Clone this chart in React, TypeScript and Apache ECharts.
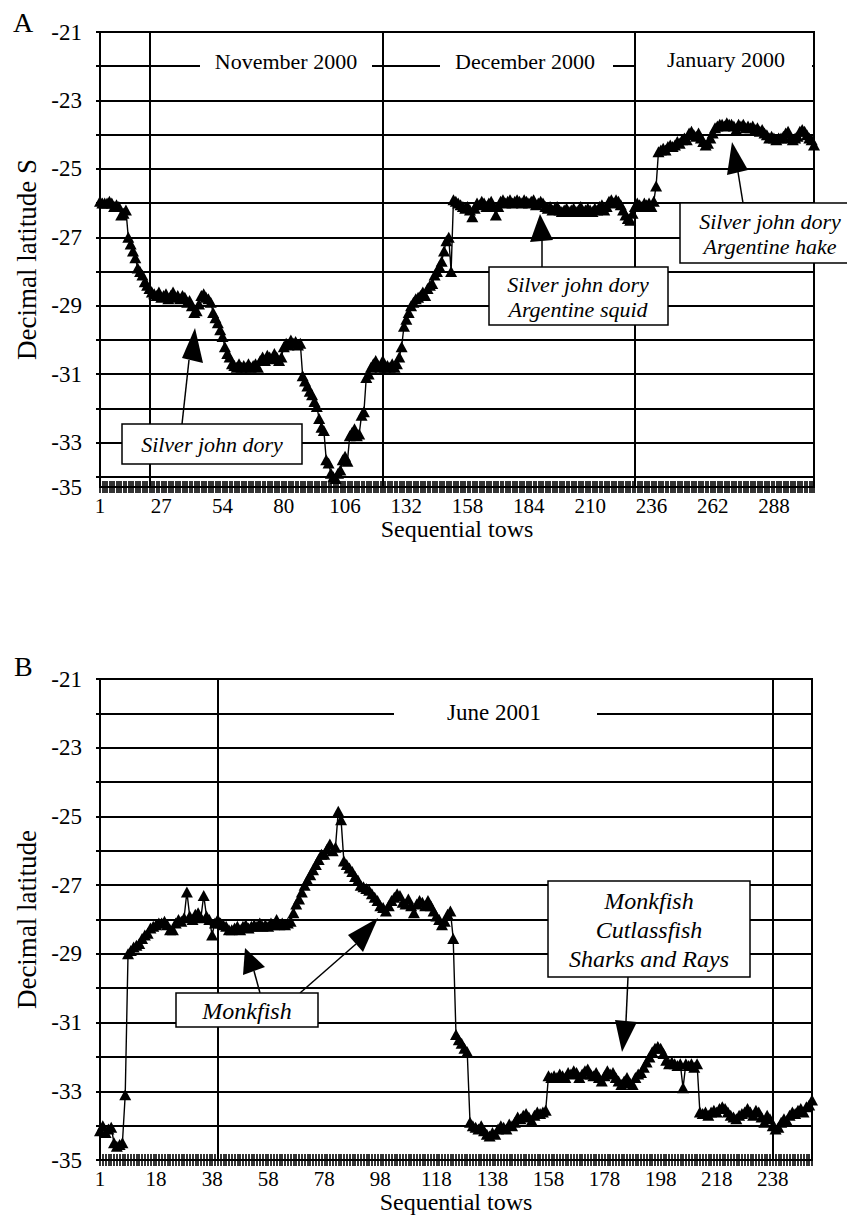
import React, { useEffect, useRef } from 'react';
import * as echarts from 'echarts';

// ---------- DATA ----------
// Panel A: decimal latitude of each sequential tow (Nov 2000 - Jan 2001)
const towsA: number[] = [
  -25.95, -26.0, -26.0, -26.0, -25.95, -26.0, -26.1, -26.05, -26.1, -26.35, -26.3, -26.2,
  -27.0, -27.2, -27.4, -27.6, -27.9, -28.0, -28.1, -28.3, -28.4, -28.5, -28.6, -28.65,
  -28.7, -28.6, -28.75, -28.7, -28.65, -28.8, -28.7, -28.6, -28.75, -28.7, -28.8, -28.7, -28.75, -28.9, -28.85,
  -29.0, -29.2, -29.15, -28.95,
  -28.7, -28.65, -28.75, -28.8, -28.9,
  -29.2, -29.35, -29.5, -29.7, -29.9, -30.2, -30.4, -30.5,
  -30.7, -30.75, -30.8, -30.7, -30.8, -30.75, -30.8, -30.7, -30.8, -30.75, -30.7, -30.8, -30.6,
  -30.5, -30.6, -30.45, -30.5, -30.55, -30.4, -30.5, -30.6, -30.5,
  -30.2, -30.1, -30.15, -30.0, -30.1, -30.05, -30.15, -30.1,
  -31.05, -31.2, -31.35, -31.5, -31.6, -31.8, -31.95, -32.3, -32.55, -32.65, -33.5, -33.6, -33.9, -34.0, -34.05, -33.9, -33.8,
  -33.5, -33.4, -33.55,
  -32.8, -32.7, -32.6, -32.8, -32.75,
  -32.2, -32.1,
  -31.1, -31.0,
  -30.8, -30.7, -30.6, -30.75, -30.8, -30.6,
  -30.8, -30.75, -30.8, -30.7, -30.8, -30.7,
  -30.5, -30.2, -29.6, -29.4, -29.2, -29.0, -28.9, -28.8, -28.75, -28.7, -28.6, -28.7, -28.5, -28.4, -28.35, -28.1, -28.0, -27.85, -27.7, -27.4, -27.1, -27.0, -28.0,
  -25.9,
  -25.95, -26.0, -26.05, -26.1, -26.15, -26.1, -26.2, -26.4, -26.15, -26.0,
  -26.05, -25.95, -26.0, -26.1, -26.0, -25.95, -26.1, -26.35, -26.1, -25.95,
  -25.9, -26.0, -25.95, -25.9, -26.0, -25.95, -25.9, -25.95, -26.0, -25.9,
  -25.95, -26.0, -25.95, -25.9, -26.05, -26.0, -25.95, -26.0, -26.1, -26.15,
  -26.1, -26.2, -26.15, -26.1, -26.2, -26.25, -26.2, -26.15, -26.25, -26.2,
  -26.15, -26.25, -26.2, -26.1, -26.25, -26.2, -26.15, -26.2, -26.25, -26.15,
  -26.2, -26.1, -26.05, -26.2, -26.1, -25.95, -25.9, -26.0, -25.9, -25.95,
  -26.05, -26.2, -26.35, -26.45, -26.5, -26.3, -26.1, -26.0, -26.05, -26.1,
  -26.0, -26.05, -26.0, -26.1, -25.95, -25.5, -24.5,
  -24.45, -24.4, -24.45, -24.35, -24.3, -24.35, -24.3, -24.2, -24.25, -24.15,
  -24.1, -24.15, -23.95, -23.9, -24.0, -24.05, -23.95, -24.1, -24.2, -24.3,
  -24.25, -24.1, -23.95, -23.8, -23.75, -23.7, -23.7, -23.75, -23.65, -23.7,
  -23.7, -23.75, -23.85, -23.7, -23.75, -23.7, -23.8, -23.75, -23.8, -23.75,
  -23.85, -23.8, -23.9, -23.85, -23.95, -24.0, -24.1, -24.05, -24.1, -24.15,
  -24.1, -24.1, -24.05, -23.95, -23.9, -24.1, -24.15, -24.1, -24.05, -23.9,
  -23.85, -23.9, -24.0, -24.1, -24.15, -24.3,
];

// Panel B: decimal latitude of each sequential tow (June 2001)
const towsB: number[] = [
  -34.15, -34.0, -34.2, -34.1, -34.05, -34.5, -34.6, -34.55, -34.5, -33.1,
  -29.0, -28.9, -28.8, -28.75, -28.7, -28.55, -28.45, -28.4, -28.25, -28.2,
  -28.15, -28.1, -28.1, -28.05, -28.15, -28.3, -28.3, -28.1, -28.0, -28.05,
  -27.95, -27.2, -27.9, -28.0, -27.85, -27.8, -27.95, -27.3, -27.9, -28.0,
  -28.45, -28.1, -28.0, -28.1, -28.15, -28.2, -28.3, -28.3, -28.25, -28.2,
  -28.3, -28.2, -28.15, -28.25, -28.2, -28.15, -28.2, -28.1, -28.2, -28.15,
  -28.2, -28.1, -28.15, -28.0, -28.15, -28.1, -28.15, -28.1, -28.05, -27.8,
  -27.55, -27.4, -27.2, -27.0, -26.85, -26.7, -26.55, -26.4, -26.25, -26.1,
  -26.1, -25.95, -25.8, -26.0, -25.9, -24.85, -25.1, -26.3, -26.4, -26.5,
  -26.6, -26.75, -26.85, -27.0, -27.05, -27.1, -27.15, -27.25, -27.35, -27.45,
  -27.6, -27.65, -27.75, -27.6, -27.45, -27.35, -27.25, -27.3, -27.5, -27.55,
  -27.4, -27.6, -27.8, -27.55, -27.45, -27.5, -27.6, -27.45, -27.6, -27.75,
  -27.9, -28.0, -28.15, -28.05, -27.85, -27.75, -28.55, -31.35, -31.5, -31.6,
  -31.75, -31.85, -33.9, -34.0, -34.05, -34.1, -34.0, -34.15, -34.25, -34.3,
  -34.2, -34.25, -34.1, -34.0, -34.05, -34.1, -33.95, -34.0, -33.9, -33.75,
  -33.8, -33.7, -33.65, -33.75, -33.85, -33.7, -33.6, -33.65, -33.6, -33.55,
  -32.55, -32.6, -32.55, -32.6, -32.5, -32.55, -32.6, -32.45, -32.5, -32.4,
  -32.45, -32.6, -32.5, -32.4, -32.35, -32.5, -32.55, -32.45, -32.6, -32.7,
  -32.55, -32.4, -32.5, -32.45, -32.6, -32.7, -32.8, -32.7, -32.6, -32.75,
  -32.8, -32.6, -32.5, -32.45, -32.3, -32.15, -32.0, -31.85, -31.75, -31.7,
  -31.75, -31.9, -32.1, -32.2, -32.15, -32.2, -32.25, -32.2, -32.9, -32.2,
  -32.25, -32.2, -32.3, -32.2, -33.6, -33.65, -33.6, -33.7, -33.6, -33.55,
  -33.6, -33.5, -33.45, -33.5, -33.6, -33.7, -33.75, -33.8, -33.7, -33.65,
  -33.6, -33.5, -33.6, -33.7, -33.55, -33.6, -33.75, -33.9, -33.7, -33.8,
  -34.0, -34.1, -34.05, -33.9, -33.8, -33.85, -33.7, -33.6, -33.65, -33.55,
  -33.5, -33.6, -33.45, -33.4, -33.25,
];

// Tick labels
const xLabelsA = ['1', '27', '54', '80', '106', '132', '158', '184', '210', '236', '262', '288'];
const xLabelStepA = 26;
const xLabelsB = ['1', '18', '38', '58', '78', '98', '118', '138', '158', '178', '198', '218', '238'];
const xLabelStepB = 20;
const yTicksA = [-21, -22, -23, -24, -25, -26, -27, -28, -29, -30, -31, -32, -33, -34];
const yTicksB = [-21, -22, -23, -24, -25, -26, -27, -28, -29, -30, -31, -32, -33, -34, -35];
const yLabelsA = ['-21', '-23', '-25', '-27', '-29', '-31', '-33', '-35'];
const yLabelsB = ['-21', '-23', '-25', '-27', '-29', '-31', '-33', '-35'];
const A_MIN = -34.3; // panel A's bottom edge (drawn compressed in the original)
const B_MIN = -35;
const Y_MAX = -21;
const yLabelValsA = [-21, -23, -25, -27, -29, -31, -33, A_MIN];
const yLabelValsB = [-21, -23, -25, -27, -29, -31, -33, -35];

// Month boundaries (tow number where a vertical rule is drawn)
const monthRulesA = [22, 121, 228];
const monthRulesB = [43, 241];
const monthsA = ['November 2000', 'December 2000', 'January 2000'];
const monthsB = ['June 2001'];
const notesA = ['Silver john dory', 'Silver john dory\nArgentine squid', 'Silver john dory\nArgentine hake'];
const notesB = ['Monkfish', 'Monkfish\nCutlassfish\nSharks and Rays'];

const FONT = '"Liberation Serif", "Times New Roman", serif';
const BLACK = '#000';

const catsA = towsA.map((_, i) => String(i + 1));
const catsB = towsB.map((_, i) => String(i + 1));

function xAxes(gridIndex: number, cats: string[], labels: string[], step: number, nameGap: number) {
  const fmt = (v: string) => {
    const i = Number(v) - 1;
    return i % step === 0 ? labels[i / step] ?? '' : '';
  };
  return [
    {
      type: 'category', gridIndex, data: cats, boundaryGap: false,
      name: 'Sequential tows', nameLocation: 'middle', nameGap,
      nameTextStyle: { fontFamily: FONT, fontSize: 24, color: BLACK },
      axisLine: { show: true, lineStyle: { color: BLACK, width: 2 } },
      axisTick: { show: true, interval: 0, length: 6, lineStyle: { color: BLACK, width: 1.6 } },
      axisLabel: {
        interval: (index: number) => index % step === 0,
        formatter: fmt, fontFamily: FONT, fontSize: 21, color: BLACK, margin: 8,
      },
      splitLine: { show: false },
    },
    {
      type: 'category', gridIndex, data: cats, boundaryGap: false, position: 'bottom',
      axisLine: { show: false },
      axisTick: { show: true, inside: true, interval: 0, length: 6, lineStyle: { color: BLACK, width: 1.6 } },
      axisLabel: { show: false },
      splitLine: { show: false },
    },
  ];
}

function yAxis(gridIndex: number, min: number, ticks: number[], labelVals: number[], labels: string[], name: string) {
  return {
    type: 'value', gridIndex, min, max: Y_MAX,
    name, nameLocation: 'middle', nameGap: 56, nameRotate: 90,
    nameTextStyle: { fontFamily: FONT, fontSize: 27, color: BLACK },
    axisLine: { show: true, lineStyle: { color: BLACK, width: 2 } },
    axisTick: { show: true, length: 4, customValues: ticks, lineStyle: { color: BLACK, width: 2 } },
    axisLabel: {
      customValues: labelVals,
      formatter: (v: number) => {
        const k = labelVals.findIndex((u) => Math.abs(u - v) < 1e-6);
        return k >= 0 ? labels[k] : '';
      },
      fontFamily: FONT, fontSize: 23, color: BLACK, margin: 18,
    },
    splitLine: { show: true, lineStyle: { color: BLACK, width: 2 } },
  };
}

function lineSeries(data: number[], xi: number, yi: number, rules: number[]) {
  return {
    type: 'line', data, xAxisIndex: xi, yAxisIndex: yi,
    symbol: 'triangle', symbolSize: [12, 11], showAllSymbol: true,
    lineStyle: { color: BLACK, width: 1.4 }, itemStyle: { color: BLACK },
    markLine: {
      silent: true, symbol: ['none', 'none'], label: { show: false },
      lineStyle: { color: BLACK, width: 2, type: 'solid' },
      data: rules.map((t) => ({ xAxis: String(t) })),
    },
  };
}

// ---------- graphic helpers ----------
const box = (x: number, y: number, w: number, h: number, stroke = true) => ({
  type: 'rect', z: 100, shape: { x, y, width: w, height: h },
  style: { fill: '#fff', stroke: stroke ? BLACK : 'none', lineWidth: stroke ? 1.5 : 0 },
});
const label = (x: number, y: number, text: string, size: number, italic = false, lh = 0) => ({
  type: 'text', z: 101, x, y,
  style: {
    text, fill: BLACK, fontFamily: FONT, fontSize: size, fontStyle: italic ? 'italic' : 'normal',
    align: 'center', verticalAlign: 'middle', lineHeight: lh || size * 1.15,
  },
});
const arrow = (x1: number, y1: number, x2: number, y2: number, head: number[][]) => [
  { type: 'line', z: 100, shape: { x1, y1, x2, y2 }, style: { stroke: BLACK, lineWidth: 1.5 } },
  { type: 'polygon', z: 100, shape: { points: head }, style: { fill: BLACK } },
];

export default function App() {
  const ref = useRef<HTMLDivElement>(null);
  useEffect(() => {
    if (!ref.current) return;
    const chart = echarts.init(ref.current, undefined, { renderer: 'svg' });
    const option: any = {
      animation: false,
      backgroundColor: '#fff',
      grid: [
        { left: 100, top: 32, width: 714, height: 455, show: true, borderColor: BLACK, borderWidth: 2, backgroundColor: 'transparent' },
        { left: 100, top: 679, width: 712, height: 481, show: true, borderColor: BLACK, borderWidth: 2, backgroundColor: 'transparent' },
      ],
      xAxis: [
        ...xAxes(0, catsA, xLabelsA, xLabelStepA, 24),
        ...xAxes(1, catsB, xLabelsB, xLabelStepB, 24),
      ],
      yAxis: [
        yAxis(0, A_MIN, yTicksA, yLabelValsA, yLabelsA, 'Decimal latitude S'),
        yAxis(1, B_MIN, yTicksB, yLabelValsB, yLabelsB, 'Decimal latitude'),
      ],
      series: [lineSeries(towsA, 0, 0, monthRulesA), lineSeries(towsB, 2, 1, monthRulesB)],
      graphic: [
        { type: 'text', z: 101, x: 13, y: 8, style: { text: 'A', fontFamily: FONT, fontSize: 28, fill: BLACK } },
        { type: 'text', z: 101, x: 14, y: 652, style: { text: 'B', fontFamily: FONT, fontSize: 28, fill: BLACK } },
        // month labels
        box(200, 55, 172, 20, false), label(286, 61, monthsA[0], 22),
        box(440, 55, 173, 20, false), label(525, 61, monthsA[1], 22),
        box(636, 38, 176, 56, false), label(726, 59, monthsA[2], 22),
        box(394, 702, 203, 22, false), label(494, 712, monthsB[0], 23),
        // annotations panel A
        ...arrow(182, 424, 189, 360, [[195, 328], [182, 358], [203, 363]]),
        box(122, 424, 180, 40), label(212, 444, notesA[0], 22, true),
        ...arrow(542, 267, 542, 240, [[540, 214], [530, 242], [553, 240]]),
        box(489, 267, 179, 58), label(578, 297, notesA[1], 22, true, 25),
        ...arrow(743, 203, 738, 172, [[732, 142], [727, 175], [748, 170]]),
        box(680, 203, 180, 60), label(770, 234, notesA[2], 22, true, 25),
        // annotations panel B
        ...arrow(260, 993, 254, 971, [[245, 948], [243, 975], [265, 967]]),
        ...arrow(300, 993, 356, 944, [[378, 918], [348, 935], [363, 952]]),
        box(176, 993, 142, 34), label(247, 1011, notesB[0], 24, true),
        ...arrow(628, 977, 626, 1021, [[622, 1052], [615, 1020], [637, 1022]]),
        box(548, 881, 202, 96), label(649, 930, notesB[1], 24, true, 29),
      ],
    };
    chart.setOption(option);
    return () => chart.dispose();
  }, []);
  return (
    <div
      ref={ref}
      style={{ position: 'absolute', left: 0, top: 0, width: 847, height: 1230, background: '#fff' }}
    />
  );
}
